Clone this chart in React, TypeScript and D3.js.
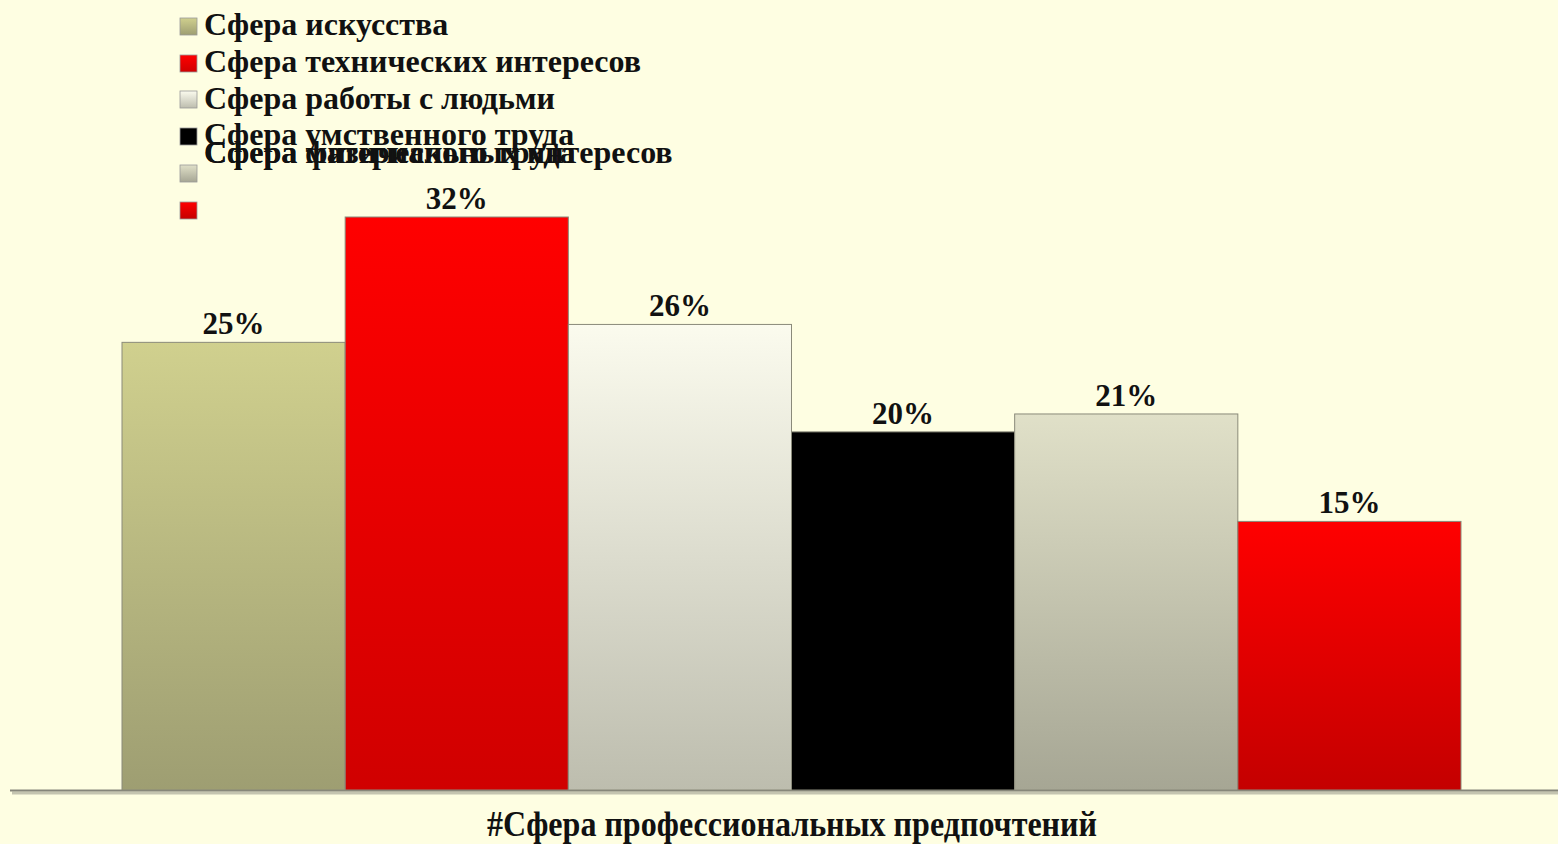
import React, { useEffect, useRef } from 'react';
import * as d3 from 'd3';

const categories: string[] = [
  'Сфера искусства',
  'Сфера технических интересов',
  'Сфера работы с людьми',
  'Сфера умственного труда',
  'Сфера физического труда',
  'Сфера материальных интересов',
];
const values: number[] = [25, 32, 26, 20, 21, 15];
const axisTitle = '#Сфера профессиональных предпочтений';

// top / bottom colours of each bar gradient
const topColors: string[] = ['#d0d08e', '#ff0000', '#fbfbee', '#000000', '#e0e0c8', '#ff0000'];
const bottomColors: string[] = ['#9e9e72', '#d00000', '#bdbdae', '#000000', '#a6a694', '#c40000'];

const W = 1558;
const H = 844;

const App: React.FC = () => {
  const ref = useRef<SVGSVGElement>(null);

  useEffect(() => {
    if (!ref.current) return;
    const svg = d3.select(ref.current);
    svg.selectAll('*').remove();

    const x = d3.scaleBand<string>().domain(categories).range([122, 1461]).padding(0);
    const y = d3.scaleLinear().domain([0, 32]).range([790, 217]);

    const defs = svg.append('defs');
    categories.forEach((c, i) => {
      const g = defs
        .append('linearGradient')
        .attr('id', `grad${i}`)
        .attr('x1', 0)
        .attr('y1', 0)
        .attr('x2', 0)
        .attr('y2', 1);
      g.append('stop').attr('offset', '0%').attr('stop-color', topColors[i]);
      g.append('stop').attr('offset', '100%').attr('stop-color', bottomColors[i]);
    });

    svg.append('rect').attr('width', W).attr('height', H).attr('fill', '#fefee2');

    // axis line + soft shadow
    svg
      .append('line')
      .attr('x1', 12)
      .attr('x2', W)
      .attr('y1', y(0) + 3)
      .attr('y2', y(0) + 3)
      .attr('stroke', '#c4c4b0')
      .attr('stroke-width', 3);
    svg
      .append('line')
      .attr('x1', 10)
      .attr('x2', W)
      .attr('y1', y(0) + 0.5)
      .attr('y2', y(0) + 0.5)
      .attr('stroke', '#85857a')
      .attr('stroke-width', 2);

    // bars
    svg
      .append('g')
      .selectAll('rect')
      .data(values)
      .enter()
      .append('rect')
      .attr('x', (_d, i) => x(categories[i])!)
      .attr('y', (d) => y(d))
      .attr('width', x.bandwidth())
      .attr('height', (d) => y(0) - y(d))
      .attr('fill', (_d, i) => `url(#grad${i})`)
      .attr('stroke', '#8a8a7a')
      .attr('stroke-width', 1);

    // value labels
    svg
      .append('g')
      .selectAll('text')
      .data(values)
      .enter()
      .append('text')
      .attr('x', (_d, i) => x(categories[i])! + x.bandwidth() / 2)
      .attr('y', (d) => y(d) - 8)
      .attr('text-anchor', 'middle')
      .style('font-family', '"Liberation Serif", serif')
      .style('font-weight', 'bold')
      .style('font-size', '31px')
      .style('fill', '#111')
      .text((d) => `${d}%`);

    svg
      .append('text')
      .attr('x', 792)
      .attr('y', 836)
      .attr('text-anchor', 'middle')
      .attr('textLength', 610)
      .attr('lengthAdjust', 'spacingAndGlyphs')
      .style('font-family', '"Liberation Serif", serif')
      .style('font-weight', 'bold')
      .style('font-size', '36px')
      .style('fill', '#111')
      .text(axisTitle);

    // legend (last two labels overlap like in the original)
    const markerY = [18, 55, 91, 128, 165, 202];
    const textY = [35, 72, 109, 145, 163, 163];
    const leg = svg.append('g');
    categories.forEach((c, i) => {
      leg
        .append('rect')
        .attr('x', 180)
        .attr('y', markerY[i])
        .attr('width', 17)
        .attr('height', 17)
        .attr('fill', `url(#grad${i})`)
        .attr('stroke', '#999')
        .attr('stroke-width', 0.8);
      leg
        .append('text')
        .attr('x', 204)
        .attr('y', textY[i])
        .style('font-family', '"Liberation Serif", serif')
        .style('font-weight', 'bold')
        .style('font-size', '32px')
        .style('fill', '#111')
        .text(c);
    });
  }, []);

  return (
    <div style={{ position: 'fixed', left: 0, top: 0 }}>
      <svg ref={ref} width={W} height={H} style={{ display: 'block' }} />
    </div>
  );
};

export default App;
